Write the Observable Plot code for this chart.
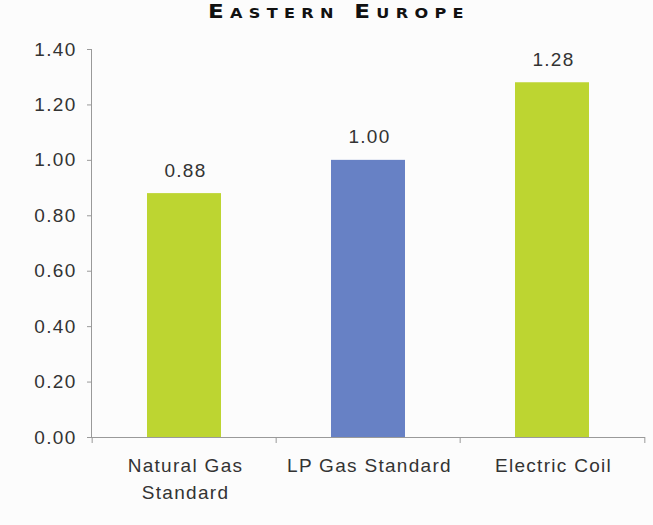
<!DOCTYPE html>
<html>
<head>
<meta charset="utf-8">
<script src="https://cdn.jsdelivr.net/npm/d3@7"></script>
<script src="https://cdn.jsdelivr.net/npm/@observablehq/plot@0.6"></script>
<style>
  html, body { margin: 0; padding: 0; background: #fcfcfc; }
  #title {
    height: 22px;
    padding-left: 208px;
    line-height: 22px;
    white-space: nowrap;
  }
  #title span {
    display: inline-block;
    font-family: "DejaVu Sans", sans-serif;
    font-weight: bold;
    font-size: 20px;
    line-height: 22px;
    font-variant: small-caps;
    letter-spacing: 5.5px;
    color: #111;
    transform: scaleX(1.15);
    transform-origin: left center;
  }
  #chart svg { display: block; font-family: "Liberation Sans", Arial, sans-serif; letter-spacing: 1.3px; }
</style>
</head>
<body>
<div id="title"><span>Eastern Europe</span></div>
<div id="chart"></div>
<script>
// Relative cost index by cooktop type
const categories = ["Natural Gas\nStandard", "LP Gas Standard", "Electric Coil"];
const values = [0.88, 1.00, 1.28];
const barColors = ["#bdd531", "#6781c5", "#bdd531"];
const yTicks = [0, 0.2, 0.4, 0.6, 0.8, 1.0, 1.2, 1.4];

const data = categories.map((c, i) => ({category: c, value: values[i], color: barColors[i]}));

const width = 653, height = 503;
const marginLeft = 91, marginRight = 8, marginTop = 27, marginBottom = 88;
const step = (width - marginLeft - marginRight) / categories.length;
const barInset = 55;
const axisGray = "#9a9a9a";

const chart = Plot.plot({
  width, height, marginLeft, marginRight, marginTop, marginBottom,
  style: {fontSize: "19px", color: "#333", background: "transparent"},
  x: {type: "band", domain: categories, padding: 0, label: null},
  y: {type: "linear", domain: [0, 1.4], label: null},
  marks: [
    Plot.barY(data, {x: "category", y: "value", fill: "color", insetLeft: barInset, insetRight: barInset}),
    Plot.text(data, {x: "category", y: "value", text: d => d3.format(".2f")(d.value),
      lineAnchor: "bottom", dy: -17, dx: 1, fill: "#333", fontSize: 19}),
    Plot.frame({anchor: "left", stroke: axisGray}),
    Plot.ruleY([0], {stroke: axisGray}),
    // short separators hanging below the baseline at the band edges
    Plot.ruleX(categories, {x: d => d, dx: -step / 2, y1: 0, y2: 0, insetBottom: -6, stroke: axisGray}),
    Plot.ruleX(categories.slice(-1), {x: d => d, dx: step / 2, y1: 0, y2: 0, insetBottom: -6, stroke: axisGray}),
    Plot.axisY({ticks: yTicks, tickFormat: d3.format(".2f"), tickSize: 4, tickPadding: 11,
      stroke: axisGray, fill: "#333", fontSize: 19, label: null}),
    Plot.axisX({tickSize: 0, tickPadding: 16, dx: 1, fill: "#333", fontSize: 19, lineHeight: 1.4, label: null})
  ]
});
document.getElementById("chart").appendChild(chart);
</script>
</body>
</html>
